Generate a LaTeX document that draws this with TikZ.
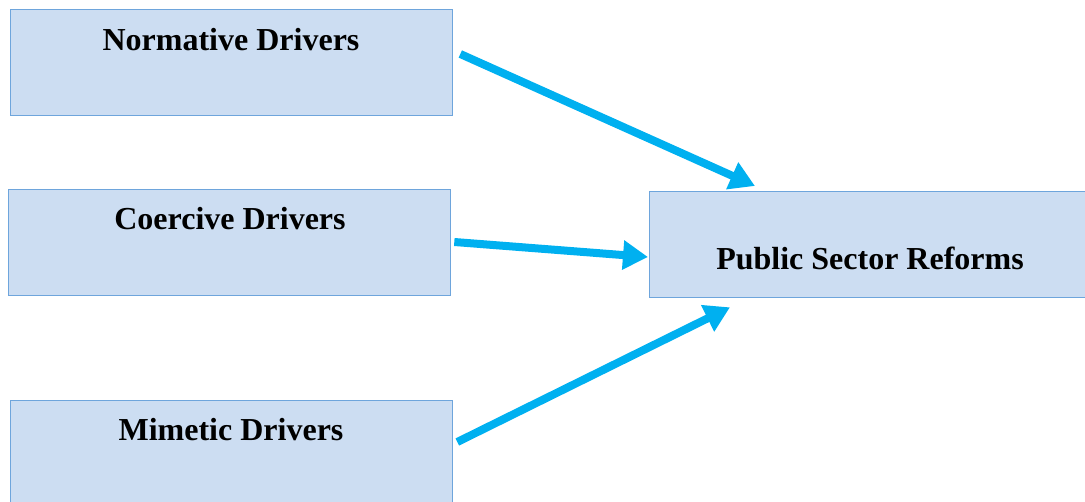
\documentclass[tikz,border=0pt]{standalone}
\usepackage{fontspec}
\setmainfont{Liberation Serif}
\usetikzlibrary{arrows.meta,calc}
\definecolor{boxfill}{RGB}{204,221,242}
\definecolor{boxline}{RGB}{110,165,220}
\definecolor{arrowblue}{RGB}{0,176,240}
\tikzset{
  drvbox/.style={draw=boxline, line width=1.3pt, fill=boxfill, rectangle, inner sep=0pt, anchor=north west},
  boxtext/.style={font=\fontsize{32}{38}\selectfont\bfseries, inner sep=0pt},
  bigarrow/.style={arrowblue, line width=8pt, -{Triangle[length=25pt,width=28pt]}}
}
\begin{document}
\begin{tikzpicture}[x=1pt,y=-1pt]
\useasboundingbox (0,0) rectangle (1085,502);
\clip (0,0) rectangle (1085,502);
\node[drvbox, minimum width=442pt, minimum height=106pt] (norm) at (10,9) {};
\node[drvbox, minimum width=442pt, minimum height=106pt] (coer) at (8,189) {};
\node[drvbox, minimum width=442pt, minimum height=120pt] (mime) at (10,400) {};
\node[drvbox, minimum width=450pt, minimum height=106pt] (psr) at (649,191) {};
\node[boxtext] (normt) at (231,40) {Normative Drivers};
\node[boxtext] (coert) at (230,219) {Coercive Drivers};
\node[boxtext] (mimet) at (231,430) {Mimetic Drivers};
\node[boxtext] (psrt) at (870,258) {Public Sector Reforms};
\draw[bigarrow] ($(norm.north east)+(7,45)$) -- ($(psr.north west)+(106,-5)$);
\draw[bigarrow] ($(coer.north east)+(3,53)$) -- ($(psr.north west)+(-1,66)$);
\draw[bigarrow] ($(mime.north east)+(4,42)$) -- ($(psr.south west)+(81,9)$);
\end{tikzpicture}
\end{document}
